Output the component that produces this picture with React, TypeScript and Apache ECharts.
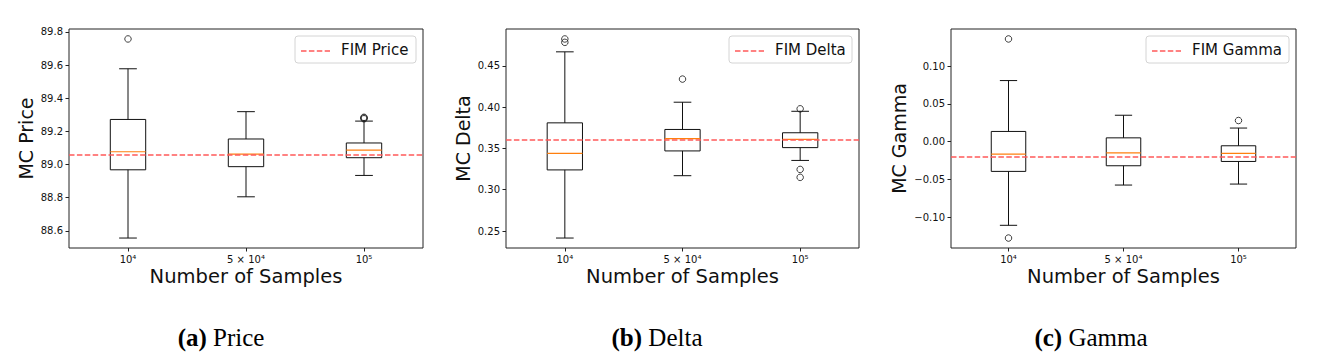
import React, { useEffect, useRef } from "react";
import * as echarts from "echarts";

const categories = ["10⁴", "5 × 10⁴", "10⁵"];

// each row: [lower whisker, Q1, median, Q3, upper whisker]
const priceBoxes = [
  [88.556, 88.968, 89.077, 89.272, 89.578],
  [88.805, 88.987, 89.063, 89.154, 89.319],
  [88.934, 89.041, 89.087, 89.13, 89.262],
];
const priceOutliers = [[0, 89.758], [2, 89.276], [2, 89.281], [2, 89.285]];
const priceFIM = 89.059;
const priceTicks = [88.6, 88.8, 89.0, 89.2, 89.4, 89.6, 89.8];

const deltaBoxes = [
  [0.2415, 0.324, 0.344, 0.381, 0.467],
  [0.317, 0.347, 0.362, 0.373, 0.406],
  [0.3355, 0.351, 0.361, 0.369, 0.395],
];
const deltaOutliers = [[0, 0.4785], [0, 0.4826], [1, 0.434], [2, 0.398], [2, 0.3246], [2, 0.315]];
const deltaFIM = 0.3601;
const deltaTicks = [0.25, 0.3, 0.35, 0.4, 0.45];

const gammaBoxes = [
  [-0.111, -0.0395, -0.0166, 0.0135, 0.081],
  [-0.0576, -0.032, -0.0148, 0.005, 0.035],
  [-0.0563, -0.0263, -0.0157, -0.0055, 0.018],
];
const gammaOutliers = [[0, 0.1362], [0, -0.1279], [2, 0.028]];
const gammaFIM = -0.0166;
const gammaTicks = [-0.1, -0.05, 0.0, 0.05, 0.1];

const panels = [
  { boxes: priceBoxes, outliers: priceOutliers, fim: priceFIM, ticks: priceTicks, decimals: 1, yName: "MC Price", legend: "FIM Price", tag: "(a)", caption: "Price" },
  { boxes: deltaBoxes, outliers: deltaOutliers, fim: deltaFIM, ticks: deltaTicks, decimals: 2, yName: "MC Delta", legend: "FIM Delta", tag: "(b)", caption: "Delta" },
  { boxes: gammaBoxes, outliers: gammaOutliers, fim: gammaFIM, ticks: gammaTicks, decimals: 2, yName: "MC Gamma", legend: "FIM Gamma", tag: "(c)", caption: "Gamma" },
];

// layout (pixels)
const grids = [
  { left: 69, top: 29, width: 354, height: 219 },
  { left: 506, top: 29, width: 353, height: 219 },
  { left: 951, top: 29, width: 345, height: 219 },
];
const yNameX = [25.5, 462.5, 899];
const legendLeft = [295, 729, 1146];
const captionX = [221, 657, 1091];

const SANS = "DejaVu Sans";
const FIM_COLOR = "#ff5a5a";

export default function App() {
  const ref = useRef<HTMLDivElement>(null);
  useEffect(() => {
    document.body.style.margin = "0";
    const chart = echarts.init(ref.current!, null, { renderer: "svg" });

    const xAxis: any[] = [];
    const yAxis: any[] = [];
    const series: any[] = [];
    const graphic: any[] = [];

    panels.forEach((p, i) => {
      const vals: number[] = [];
      p.boxes.forEach((b) => vals.push(b[0], b[4]));
      p.outliers.forEach((o) => vals.push(o[1]));
      const lo = Math.min(...vals);
      const hi = Math.max(...vals);
      const pad = (hi - lo) * 0.05;

      xAxis.push({
        type: "category",
        gridIndex: i,
        position: "bottom",
        data: categories,
        boundaryGap: true,
        axisLine: { show: false, onZero: false },
        axisTick: { show: true, alignWithLabel: true, length: 3.5, lineStyle: { color: "#222", width: 1 } },
        axisLabel: { fontSize: 10, fontFamily: SANS, color: "#111", margin: 6 },
        splitLine: { show: false },
      });
      yAxis.push({
        type: "value",
        gridIndex: i,
        position: "left",
        min: lo - pad,
        max: hi + pad,
        axisLine: { show: false, onZero: false },
        splitLine: { show: false },
        axisTick: { show: true, length: 3.5, customValues: p.ticks, lineStyle: { color: "#222", width: 1 } },
        axisLabel: {
          fontSize: 10,
          fontFamily: SANS,
          color: "#111",
          margin: 6,
          customValues: p.ticks,
          formatter: (v: number) => v.toFixed(p.decimals).replace("-", "\u2212"),
        },
      });

      series.push({
        type: "custom",
        xAxisIndex: i,
        yAxisIndex: i,
        z: 2,
        encode: { x: 0, y: [1, 2, 3, 4, 5] },
        data: p.boxes.map((b, k) => [k, ...b]),
        renderItem: (params: any, api: any) => {
          const x = api.value(0);
          const low = api.coord([x, api.value(1)]);
          const q1 = api.coord([x, api.value(2)]);
          const med = api.coord([x, api.value(3)]);
          const q3 = api.coord([x, api.value(4)]);
          const high = api.coord([x, api.value(5)]);
          const band = api.size([1, 0])[0];
          const w = band * 0.3;
          const cx = low[0];
          const stroke = { stroke: "#111", lineWidth: 1, fill: "none" };
          return {
            type: "group",
            children: [
              { type: "rect", shape: { x: cx - w / 2, y: q3[1], width: w, height: q1[1] - q3[1] }, style: stroke },
              { type: "line", shape: { x1: cx, y1: q3[1], x2: cx, y2: high[1] }, style: stroke },
              { type: "line", shape: { x1: cx, y1: q1[1], x2: cx, y2: low[1] }, style: stroke },
              { type: "line", shape: { x1: cx - w / 4, y1: high[1], x2: cx + w / 4, y2: high[1] }, style: stroke },
              { type: "line", shape: { x1: cx - w / 4, y1: low[1], x2: cx + w / 4, y2: low[1] }, style: stroke },
              { type: "line", shape: { x1: cx - w / 2, y1: med[1], x2: cx + w / 2, y2: med[1] }, style: { stroke: "#ff7f0e", lineWidth: 1.2 } },
            ],
          };
        },
      });

      series.push({
        type: "scatter",
        xAxisIndex: i,
        yAxisIndex: i,
        z: 3,
        symbol: "circle",
        symbolSize: 6.5,
        itemStyle: { color: "rgba(0,0,0,0)", borderColor: "#111", borderWidth: 1 },
        data: p.outliers,
        markLine: {
          silent: true,
          symbol: ["none", "none"],
          label: { show: false },
          lineStyle: { color: FIM_COLOR, width: 1.5, type: [5.5, 2.4] },
          data: [{ yAxis: p.fim }],
        },
      });

      const g = grids[i];
      // axis titles
      graphic.push({
        type: "text",
        x: g.left + g.width / 2,
        y: 276,
        style: { text: "Number of Samples", fontSize: 19.5, fontFamily: SANS, fill: "#111", align: "center", verticalAlign: "middle" },
      });
      graphic.push({
        type: "text",
        x: yNameX[i],
        y: 138.5,
        rotation: Math.PI / 2,
        style: { text: p.yName, fontSize: 19, fontFamily: SANS, fill: "#111", align: "center", verticalAlign: "middle" },
      });
      // legend
      const lr = g.left + g.width - 7;
      const ll = legendLeft[i];
      graphic.push({
        type: "rect",
        z: 10,
        shape: { x: ll, y: 36, width: lr - ll, height: 27, r: 3 },
        style: { fill: "rgba(255,255,255,0.8)", stroke: "#d4d4d4", lineWidth: 1 },
      });
      graphic.push({
        type: "line",
        z: 11,
        shape: { x1: ll + 6, y1: 51, x2: ll + 35, y2: 51 },
        style: { stroke: FIM_COLOR, lineWidth: 1.5, lineDash: [5.5, 2.4] },
      });
      graphic.push({
        type: "text",
        z: 11,
        x: ll + 46,
        y: 50,
        style: { text: p.legend, fontSize: 15, fontFamily: SANS, fill: "#111", align: "left", verticalAlign: "middle" },
      });
      // caption
      graphic.push({
        type: "text",
        x: captionX[i],
        y: 337,
        style: {
          text: `{b|${p.tag}} ${p.caption}`,
          fontSize: 25,
          fontFamily: "Liberation Serif",
          fill: "#000",
          align: "center",
          verticalAlign: "middle",
          rich: { b: { fontWeight: "bold", fontSize: 25, fontFamily: "Liberation Serif", fill: "#000" } },
        },
      });
    });

    chart.setOption({
      animation: false,
      backgroundColor: "#fff",
      grid: grids.map((g) => ({ ...g, show: true, borderColor: "#222", borderWidth: 1, backgroundColor: "transparent" })),
      xAxis,
      yAxis,
      series,
      graphic,
    });
    return () => chart.dispose();
  }, []);
  return <div ref={ref} style={{ width: 1318, height: 361 }} />;
}
